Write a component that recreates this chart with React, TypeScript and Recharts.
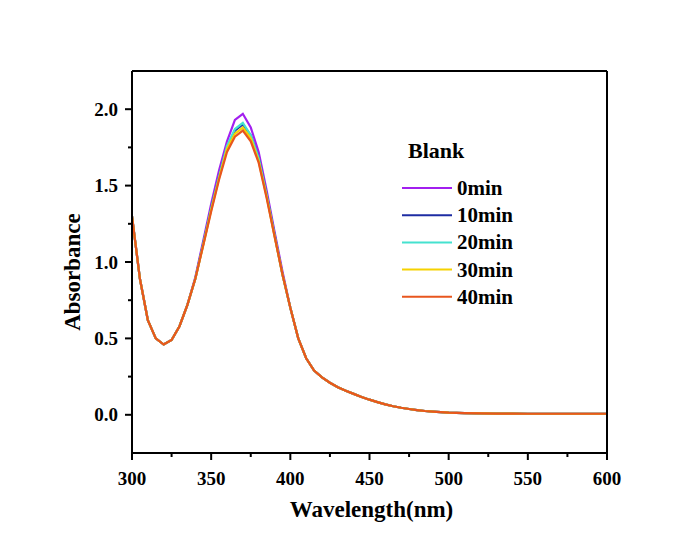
import React from "react"
import { LineChart, Line, XAxis, YAxis, Legend } from "recharts"

// wavelength in nm
const wavelength = [
  300, 305, 310, 315, 320, 325, 330, 335, 340, 345, 350, 355, 360, 365, 370, 375, 380, 385, 390, 395,
  400, 405, 410, 415, 420, 425, 430, 435, 440, 445, 450, 455, 460, 465, 470, 475, 480, 485, 490, 495,
  500, 510, 520, 530, 540, 550, 560, 570, 580, 590, 600,
]

const min0 = [
  1.3, 0.89, 0.62, 0.5, 0.46, 0.49, 0.58, 0.72, 0.9, 1.14, 1.38, 1.6, 1.79, 1.93, 1.97, 1.88, 1.72, 1.47, 1.2, 0.94,
  0.7, 0.5, 0.37, 0.29, 0.245, 0.21, 0.18, 0.158, 0.137, 0.117, 0.099, 0.083, 0.068, 0.056, 0.046, 0.038, 0.031, 0.025, 0.021, 0.017,
  0.014, 0.011, 0.009, 0.008, 0.008, 0.007, 0.007, 0.007, 0.007, 0.007, 0.007,
]
const min10 = [
  1.3, 0.89, 0.62, 0.5, 0.46, 0.49, 0.58, 0.72, 0.89, 1.12, 1.35, 1.56, 1.75, 1.86, 1.9, 1.83, 1.68, 1.44, 1.18, 0.92,
  0.7, 0.5, 0.37, 0.29, 0.245, 0.21, 0.18, 0.158, 0.137, 0.117, 0.099, 0.083, 0.068, 0.056, 0.046, 0.038, 0.031, 0.025, 0.021, 0.017,
  0.014, 0.011, 0.009, 0.008, 0.008, 0.007, 0.007, 0.007, 0.007, 0.007, 0.007,
]
const min20 = [
  1.3, 0.89, 0.62, 0.5, 0.46, 0.49, 0.58, 0.72, 0.89, 1.12, 1.35, 1.56, 1.76, 1.87, 1.91, 1.83, 1.68, 1.44, 1.18, 0.92,
  0.7, 0.5, 0.37, 0.29, 0.245, 0.21, 0.18, 0.158, 0.137, 0.117, 0.099, 0.083, 0.068, 0.056, 0.046, 0.038, 0.031, 0.025, 0.021, 0.017,
  0.014, 0.011, 0.009, 0.008, 0.008, 0.007, 0.007, 0.007, 0.007, 0.007, 0.007,
]
const min30 = [
  1.3, 0.89, 0.62, 0.5, 0.46, 0.49, 0.58, 0.72, 0.89, 1.11, 1.34, 1.55, 1.74, 1.84, 1.88, 1.81, 1.66, 1.43, 1.17, 0.92,
  0.7, 0.5, 0.37, 0.29, 0.245, 0.21, 0.18, 0.158, 0.137, 0.117, 0.099, 0.083, 0.068, 0.056, 0.046, 0.038, 0.031, 0.025, 0.021, 0.017,
  0.014, 0.011, 0.009, 0.008, 0.008, 0.007, 0.007, 0.007, 0.007, 0.007, 0.007,
]
const min40 = [
  1.3, 0.89, 0.62, 0.5, 0.46, 0.49, 0.58, 0.72, 0.89, 1.11, 1.33, 1.54, 1.72, 1.82, 1.86, 1.79, 1.65, 1.42, 1.17, 0.92,
  0.7, 0.5, 0.37, 0.29, 0.245, 0.21, 0.18, 0.158, 0.137, 0.117, 0.099, 0.083, 0.068, 0.056, 0.046, 0.038, 0.031, 0.025, 0.021, 0.017,
  0.014, 0.011, 0.009, 0.008, 0.008, 0.007, 0.007, 0.007, 0.007, 0.007, 0.007,
]

const xTicks = [300, 325, 350, 375, 400, 425, 450, 475, 500, 525, 550, 575, 600]
const xMajor = [300, 350, 400, 450, 500, 550, 600]
const yTicks = [0, 0.25, 0.5, 0.75, 1, 1.25, 1.5, 1.75, 2]
const yMajor = [0, 0.5, 1, 1.5, 2]

const series = [
  { key: "m0", name: "0min", color: "#A21FEF" },
  { key: "m10", name: "10min", color: "#1E2CA3" },
  { key: "m20", name: "20min", color: "#45E2CF" },
  { key: "m30", name: "30min", color: "#F6D200" },
  { key: "m40", name: "40min", color: "#E8561E" },
]

const data = wavelength.map((w, i) => ({
  w,
  m0: min0[i],
  m10: min10[i],
  m20: min20[i],
  m30: min30[i],
  m40: min40[i],
}))

const FONT = "'Liberation Serif', 'Times New Roman', serif"

function XTick(props: any) {
  const { x, y, payload } = props
  const major = xMajor.includes(payload.value)
  return (
    <g>
      <line x1={x} x2={x} y1={y} y2={y + (major ? 7 : 4)} stroke="#000" strokeWidth={2} />
      {major && (
        <text x={x} y={y + 32} textAnchor="middle" fontFamily={FONT} fontWeight="bold" fontSize={19} fill="#000">
          {payload.value}
        </text>
      )}
    </g>
  )
}

function YTick(props: any) {
  const { x, y, payload } = props
  const major = yMajor.includes(payload.value)
  return (
    <g>
      <line x1={x} x2={x - (major ? 7 : 4)} y1={y} y2={y} stroke="#000" strokeWidth={2} />
      {major && (
        <text x={x - 14} y={y + 6.5} textAnchor="end" fontFamily={FONT} fontWeight="bold" fontSize={19} fill="#000">
          {payload.value.toFixed(1)}
        </text>
      )}
    </g>
  )
}

function LegendBox() {
  return (
    <svg width={170} height={190}>
      <text x={8} y={28} fontFamily={FONT} fontWeight="bold" fontSize={22} fill="#000">
        Blank
      </text>
      {series.map((s, i) => (
        <g key={s.key}>
          <line x1={2} x2={52} y1={58 + i * 27.2} y2={58 + i * 27.2} stroke={s.color} strokeWidth={2} />
          <text x={57} y={65 + i * 27.2} fontFamily={FONT} fontWeight="bold" fontSize={21} fill="#000">
            {s.name}
          </text>
        </g>
      ))}
    </svg>
  )
}

export default function App() {
  return (
    <div style={{ position: "absolute", left: 0, top: 0, background: "#fff" }}>
      <LineChart width={694} height={534} data={data} margin={{ top: 70, right: 86, bottom: 80, left: 131 }}>
        <XAxis
          dataKey="w"
          type="number"
          domain={[300, 600]}
          ticks={xTicks}
          interval={0}
          height={1}
          tickSize={0}
          tickMargin={0}
          tickLine={false}
          tick={<XTick />}
          axisLine={{ stroke: "#000", strokeWidth: 2 }}
          label={(p: any) => {
            const vb = p.viewBox
            return (
              <text x={vb.x + vb.width / 2 + 2} y={517} textAnchor="middle" fontFamily={FONT} fontWeight="bold" fontSize={23} fill="#000">
                Wavelength(nm)
              </text>
            )
          }}
        />
        <XAxis xAxisId="top" orientation="top" dataKey="w" type="number" domain={[300, 600]} height={1} tick={false} tickLine={false} axisLine={{ stroke: "#000", strokeWidth: 2 }} />
        <YAxis
          type="number"
          domain={[-0.25, 2.25]}
          ticks={yTicks}
          interval={0}
          width={1}
          tickSize={0}
          tickMargin={0}
          tickLine={false}
          tick={<YTick />}
          axisLine={{ stroke: "#000", strokeWidth: 2 }}
          label={() => (
            <text x={80} y={272} transform="rotate(-90 80 272)" textAnchor="middle" fontFamily={FONT} fontWeight="bold" fontSize={23} fill="#000">
              Absorbance
            </text>
          )}
        />
        <YAxis yAxisId="right" orientation="right" type="number" domain={[-0.25, 2.25]} width={1} tick={false} tickLine={false} axisLine={{ stroke: "#000", strokeWidth: 2 }} />
        <Legend
          layout="vertical"
          align="center"
          verticalAlign="middle"
          content={() => <LegendBox />}
          wrapperStyle={{ left: 400, top: 130, width: 170, height: 190 }}
        />
        {series.map((s) => (
          <Line
            key={s.key}
            dataKey={s.key}
            name={s.name}
            type="linear"
            stroke={s.color}
            strokeWidth={2.2}
            dot={false}
            isAnimationActive={false}
          />
        ))}
      </LineChart>
    </div>
  )
}
